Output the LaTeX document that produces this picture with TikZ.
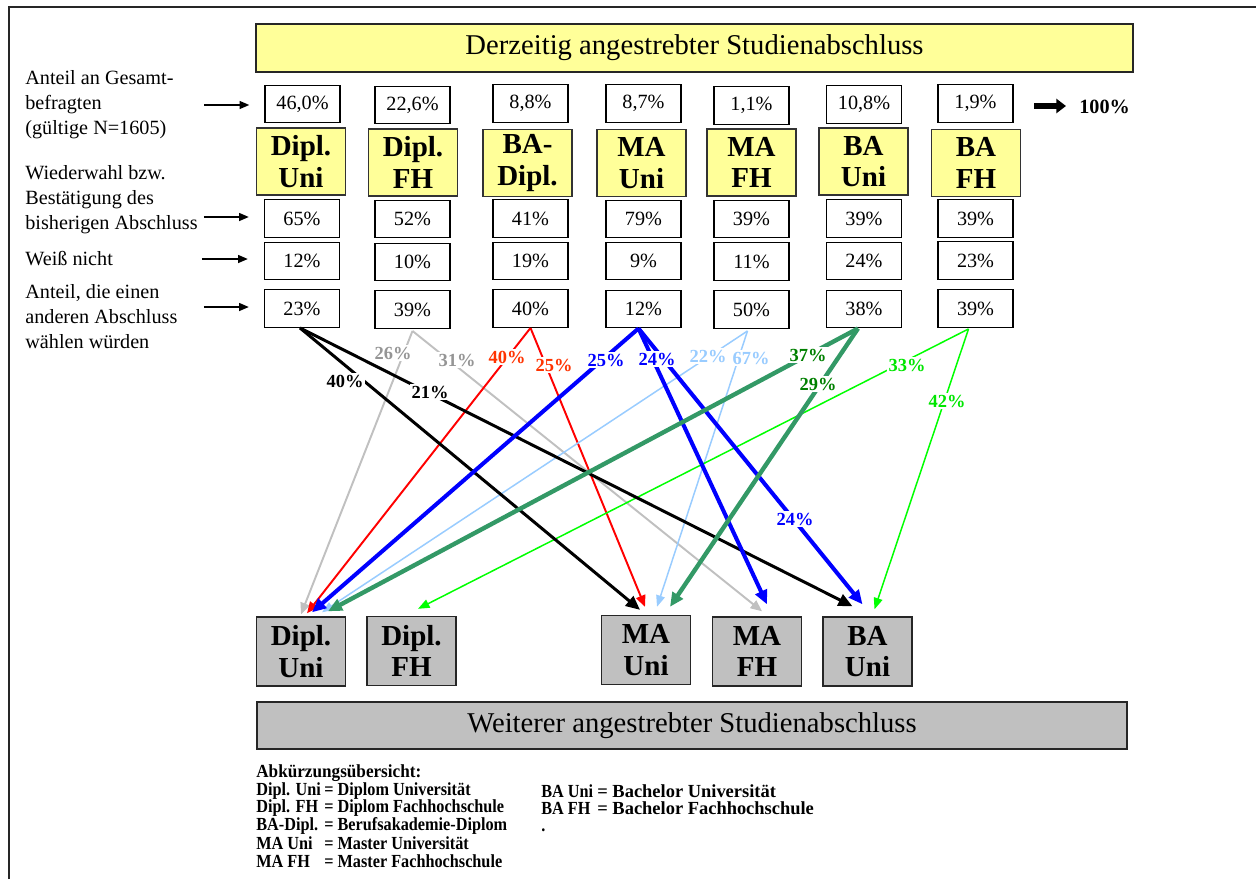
\documentclass[tikz,border=0pt]{standalone}
\usepackage{fontspec}
\setmainfont{Liberation Serif}
\newfontfamily\legcond{Liberation Serif}[FakeStretch=0.88]
\newfontfamily\leghead{Liberation Serif}[FakeStretch=0.93]
\usetikzlibrary{arrows.meta,calc}
\definecolor{ylw}{HTML}{FFFF99}
\definecolor{gry}{HTML}{C0C0C0}
\definecolor{gryT}{HTML}{959595}
\definecolor{redT}{HTML}{FF3300}
\definecolor{ltb}{HTML}{99CCFF}
\definecolor{dgr}{HTML}{339966}
\definecolor{dgrT}{HTML}{008000}
\definecolor{brg}{HTML}{00FF00}
\definecolor{brgT}{HTML}{00E600}
\begin{document}
\begin{tikzpicture}[x=0.02cm,y=-0.02cm,
  pbox/.style={draw=black, line width=0.8pt, fill=white, minimum width=1.5cm, minimum height=0.75cm, inner sep=0pt, font=\fontsize{11.5}{13}\selectfont},
  ybox/.style={draw=black!80, line width=0.8pt, fill=ylw, minimum width=1.78cm, minimum height=1.34cm, inner sep=0pt, align=center, font=\fontsize{16.5}{18}\selectfont\bfseries},
  gbox/.style={draw=black!85, line width=0.8pt, fill=gry, minimum width=1.78cm, minimum height=1.38cm, inner sep=0pt, align=center, font=\fontsize{16.5}{18}\selectfont\bfseries},
  side/.style={anchor=west, align=left, inner sep=0pt, font=\fontsize{11.5}{14.2}\selectfont},
  sarr/.style={draw=black, line width=0.8pt, -{Triangle[length=5.5pt,width=4.5pt]}},
  lbl/.style={font=\fontsize{10.5}{11}\selectfont\bfseries, fill=white, inner sep=0.8pt},
  legc/.style={anchor=west, inner sep=0pt, font=\fontsize{10.5}{11}\selectfont\legcond\bfseries},
  legw/.style={anchor=west, inner sep=0pt, font=\fontsize{10.5}{11}\selectfont\bfseries},
  blkA/.style={draw=black, line width=1.7pt, -{Triangle[length=8pt,width=7pt]}},
  gryA/.style={draw=gry, line width=1.1pt, -{Triangle[length=6.5pt,width=5.5pt]}},
  redA/.style={draw=red, line width=1.1pt, -{Triangle[length=6.5pt,width=5.5pt]}},
  bluA/.style={draw=blue, line width=2.3pt, -{Triangle[length=8pt,width=7pt]}},
  ltbA/.style={draw=ltb, line width=0.85pt, -{Triangle[length=6.5pt,width=5pt]}},
  dgrA/.style={draw=dgr, line width=2.5pt, -{Triangle[length=8pt,width=7pt]}},
  brgA/.style={draw=brg, line width=0.85pt, -{Triangle[length=6.5pt,width=5pt]}}
]
\useasboundingbox (0,0) rectangle (1256,879);
% outer frame
\draw[line width=1.1pt, black!85] (9,879) -- (9,7) -- (1256,7);

% title
\node[draw=black!85, line width=0.8pt, fill=ylw, minimum width=17.54cm, minimum height=0.96cm, inner sep=0pt, font=\fontsize{16.3}{18}\selectfont] (title) at (694.5,48) {Derzeitig angestrebter Studienabschluss};

% row 1: shares
\node[pbox] (r1-1) at (302.5,104) {46,0\%};
\node[pbox] (r1-2) at (412.5,105) {22,6\%};
\node[pbox] (r1-3) at (530.5,103.5) {8,8\%};
\node[pbox] (r1-4) at (643.5,103.5) {8,7\%};
\node[pbox] (r1-5) at (751.5,105.5) {1,1\%};
\node[pbox] (r1-6) at (864,104.5) {10,8\%};
\node[pbox] (r1-7) at (975.5,103.5) {1,9\%};

% row 2: degree labels
\node[ybox] (y1) at (301,161.5) {Dipl.\\Uni};
\node[ybox] (y2) at (413,162.5) {Dipl.\\FH};
\node[ybox] (y3) at (527.5,163) {BA-\\Dipl.};
\node[ybox] (y4) at (641.5,163) {MA\\Uni};
\node[ybox] (y5) at (751.5,162.5) {MA\\FH};
\node[ybox] (y6) at (863.5,161.5) {BA\\Uni};
\node[ybox] (y7) at (976,163) {BA\\FH};

% row 3
\node[pbox] (r3-1) at (302,218.5) {65\%};
\node[pbox] (r3-2) at (412.5,219) {52\%};
\node[pbox] (r3-3) at (530.5,218.5) {41\%};
\node[pbox] (r3-4) at (643.5,219) {79\%};
\node[pbox] (r3-5) at (751.5,219) {39\%};
\node[pbox] (r3-6) at (864,218.5) {39\%};
\node[pbox] (r3-7) at (975.5,218.5) {39\%};

% row 4
\node[pbox] (r4-1) at (302,261) {12\%};
\node[pbox] (r4-2) at (412.5,262) {10\%};
\node[pbox] (r4-3) at (530.5,261) {19\%};
\node[pbox] (r4-4) at (643.5,261) {9\%};
\node[pbox] (r4-5) at (751.5,261.5) {11\%};
\node[pbox] (r4-6) at (864,261) {24\%};
\node[pbox] (r4-7) at (975.5,260.5) {23\%};

% row 5
\node[pbox] (r5-1) at (302,308.5) {23\%};
\node[pbox] (r5-2) at (412.5,309.5) {39\%};
\node[pbox] (r5-3) at (530.5,308.5) {40\%};
\node[pbox] (r5-4) at (643.5,309) {12\%};
\node[pbox] (r5-5) at (751.5,309.5) {50\%};
\node[pbox] (r5-6) at (864,309) {38\%};
\node[pbox] (r5-7) at (975.5,308.5) {39\%};

% side labels
\node[side] (s1) at (25,105) {Anteil an Gesamt-\\befragten\\(gültige N=1605)};
\node[side] (s2) at (25,200) {Wiederwahl bzw.\\Bestätigung des\\bisherigen Abschluss};
\node[side] (s3) at (25,259) {Weiß nicht};
\node[side] (s4) at (25,317) {Anteil, die einen\\anderen Abschluss\\wählen würden};
\draw[sarr] ($(r1-1.west)+(-60,1)$) -- ($(r1-1.west)+(-15,1)$);
\draw[sarr] ($(r3-1.west)+(-60,-1.5)$) -- ($(r3-1.west)+(-15,-1.5)$);
\draw[sarr] ($(r4-1.west)+(-62,-2)$) -- ($(r4-1.west)+(-16,-2)$);
\draw[sarr] ($(r5-1.west)+(-60,-1.5)$) -- ($(r5-1.west)+(-15,-1.5)$);

% 100%
\node[inner sep=0pt, anchor=west, font=\fontsize{11.5}{13}\selectfont\bfseries] (hund) at (1079,107) {100\%};
\draw[line width=3.4pt, -{Triangle[length=5.5pt,width=8pt]}] ($(hund.west)+(-45,-1)$) -- ($(hund.west)+(-13,-1)$);

% bottom boxes
\node[gbox] (bDU) at (301,651.5) {Dipl.\\Uni};
\node[gbox] (bDF) at (411.5,651) {Dipl.\\FH};
\node[gbox] (bMU) at (646,650) {MA\\Uni};
\node[gbox] (bMF) at (757,651.5) {MA\\FH};
\node[gbox] (bBU) at (867.5,651.5) {BA\\Uni};

\node[draw=black!85, line width=0.8pt, fill=gry, minimum width=17.4cm, minimum height=0.94cm, inner sep=0pt, font=\fontsize{16.3}{18}\selectfont] (bottom) at (692,725.5) {Weiterer angestrebter Studienabschluss};

% connectors
\draw[gryA] ($(r5-2.south)+(0,2)$) -- ($(bDU.north)+(0,-2)$);
\draw[gryA] ($(r5-2.south)+(0,2)$) -- ($(bMF.north)+(5,-5)$);
\draw[redA] (r5-3.south) -- ($(bDU.north)+(6,-3)$);
\draw[redA] (r5-3.south) -- ($(bMU.north)+(-1,-8)$);
\draw[ltbA] ($(r5-5.south)+(-4,2)$) -- ($(bDU.north)+(21,-4)$);
\draw[ltbA] ($(r5-5.south)+(-4,2)$) -- ($(bMU.north)+(11,-8)$);
\draw[brgA] ($(r5-7.south)+(-7,1)$) -- ($(bDF.north)+(6.5,-7)$);
\draw[brgA] ($(r5-7.south)+(-7,1)$) -- ($(bBU.north)+(7,-7)$);
\draw[blkA] ($(r5-1.south)+(-2,0)$) -- ($(bMU.north)+(-6,-5)$);
\draw[blkA] ($(r5-1.south)+(-2,0)$) -- ($(bBU.north)+(-15,-10)$);
\draw[bluA] ($(r5-4.south)+(-5,0)$) -- ($(bDU.north)+(11,-4)$);
\draw[bluA] ($(r5-4.south)+(-5,0)$) -- ($(bMF.north)+(10,-12)$);
\draw[bluA] ($(r5-4.south)+(-5,0)$) -- ($(bBU.north)+(-5,-12)$);
\draw[dgrA] ($(r5-6.south)+(-6,0)$) -- ($(bDU.north)+(27,-5)$);
\draw[dgrA] ($(r5-6.south)+(-6,0)$) -- ($(bMU.north)+(24,-8)$);

% connector labels
\node[lbl, text=black] (l1) at (345,381) {40\%};
\node[lbl, text=black] (l2) at (430,392) {21\%};
\node[lbl, text=gryT] (l3) at (393,353) {26\%};
\node[lbl, text=gryT] (l4) at (457,360) {31\%};
\node[lbl, text=redT] (l5) at (507,357) {40\%};
\node[lbl, text=redT] (l6) at (554,365) {25\%};
\node[lbl, text=blue] (l7) at (606,360) {25\%};
\node[lbl, text=blue] (l8) at (657,359) {24\%};
\node[lbl, text=blue] (l9) at (795,519) {24\%};
\node[lbl, text=ltb] (l10) at (708,356) {22\%};
\node[lbl, text=ltb] (l11) at (751,358) {67\%};
\node[lbl, text=dgrT] (l12) at (808,355) {37\%};
\node[lbl, text=dgrT] (l13) at (818,384) {29\%};
\node[lbl, text=brgT] (l14) at (907,365) {33\%};
\node[lbl, text=brgT] (l15) at (947,401) {42\%};

% legend
\node[anchor=west, inner sep=0pt, font=\fontsize{10.5}{11}\selectfont\leghead\bfseries] (lg0) at (256,773) {Abkürzungsübersicht:};
\node[legc] (lg1) at (256,791) {Dipl. Uni};
\node[legc] (lg2) at (256,808) {Dipl. FH};
\node[legc] (lg3) at (256,826) {BA-Dipl.};
\node[legc] (lg4) at (256,843) {MA Uni};
\node[legc] (lg5) at (256,861) {MA FH};
\node[legc] (lg1b) at (324,791) {= Diplom Universität};
\node[legc] (lg2b) at (324,808) {= Diplom Fachhochschule};
\node[legc] (lg3b) at (324,826) {= Berufsakademie-Diplom};
\node[legc] (lg4b) at (324,843) {= Master Universität};
\node[legc] (lg5b) at (324,861) {= Master Fachhochschule};
\node[legc] (lg6) at (541,791) {BA Uni};
\node[legc] (lg7) at (541,808) {BA FH};
\node[legc, anchor=base west] (lg8) at (541,831) {.};
\node[legw] (lg6b) at (597,791) {= Bachelor Universität};
\node[legw] (lg7b) at (597,808) {= Bachelor Fachhochschule};
\end{tikzpicture}
\end{document}
